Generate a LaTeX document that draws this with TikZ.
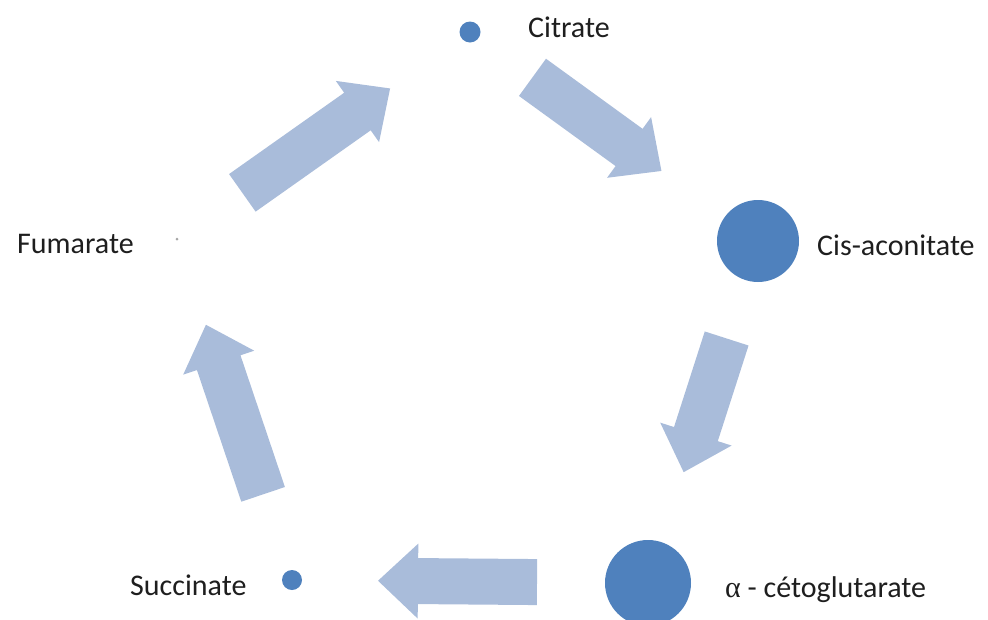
\documentclass[tikz,border=0pt]{standalone}
\usepackage{fontspec}
\setmainfont{Carlito}
\newfontfamily\greekfont{Liberation Serif}
\usetikzlibrary{calc}
\definecolor{dotblue}{HTML}{4F81BD}
\definecolor{arrowblue}{HTML}{A9BCDA}
\definecolor{labelgray}{HTML}{1E1E1E}
\tikzset{
  dot/.style={shape=circle,fill=dotblue,inner sep=0pt},
  label text/.style={anchor=base west,inner sep=0pt,text=labelgray,font=\fontsize{30}{36}\selectfont},
  % block arrow from start to target, cut back by #1 and #2
  cyclearrow/.style 2 args={fill=arrowblue,to path={
    let \p1=($(\tikztotarget)-(\tikztostart)$),\n1={atan2(\y1,\x1)},\n2={veclen(\x1,\y1)} in
    [shift={(\tikztostart)},rotate=\n1]
    (#1,-23)--(\n2-#2-40,-23)--(\n2-#2-40,-37.5)--(\n2-#2,0)
    --(\n2-#2-40,37.5)--(\n2-#2-40,23)--(#1,23)--cycle}}
}
\begin{document}
\begin{tikzpicture}[x=1pt,y=-1pt]
            \useasboundingbox (0,0) rectangle (988,619);
            \clip (0,0) rectangle (988,619);
            \node (citrate) at (470,32) [dot,minimum size=21pt] {};
            \node (cis) at (758,241) [dot,minimum size=82pt] {};
            \node (alpha) at (648,583) [dot,minimum size=86pt] {};
            \node (succinate) at (292,580) [dot,minimum size=20pt] {};
            \node (fumarate) at (177,239) [shape=circle,fill=black!35,inner sep=0pt,minimum size=3pt] {};
            \node (citrate label) at (528,37) [label text] {Citrate};
            \node (cis label) at (817,255) [label text] {Cis-aconitate};
            \node (alpha label) at (725,597) [label text] {{\greekfont α} - cétoglutarate};
            \node (fumarate label) at (17,253) [label text] {Fumarate};
            \node (succinate label) at (130,595) [label text] {Succinate};
            \fill[cyclearrow={80}{97.8}] (fumarate.center) to (citrate.center);
            \fill[cyclearrow={77.2}{119.3}] (citrate.center) to (cis.center);
            \fill[cyclearrow={102.4}{116.4}] (cis.center) to (alpha.center);
            \fill[cyclearrow={111}{86}] (alpha.center) to (succinate.center);
            \fill[cyclearrow={90.4}{90.5}] (succinate.center) to (fumarate.center);
        \end{tikzpicture}
\end{document}
